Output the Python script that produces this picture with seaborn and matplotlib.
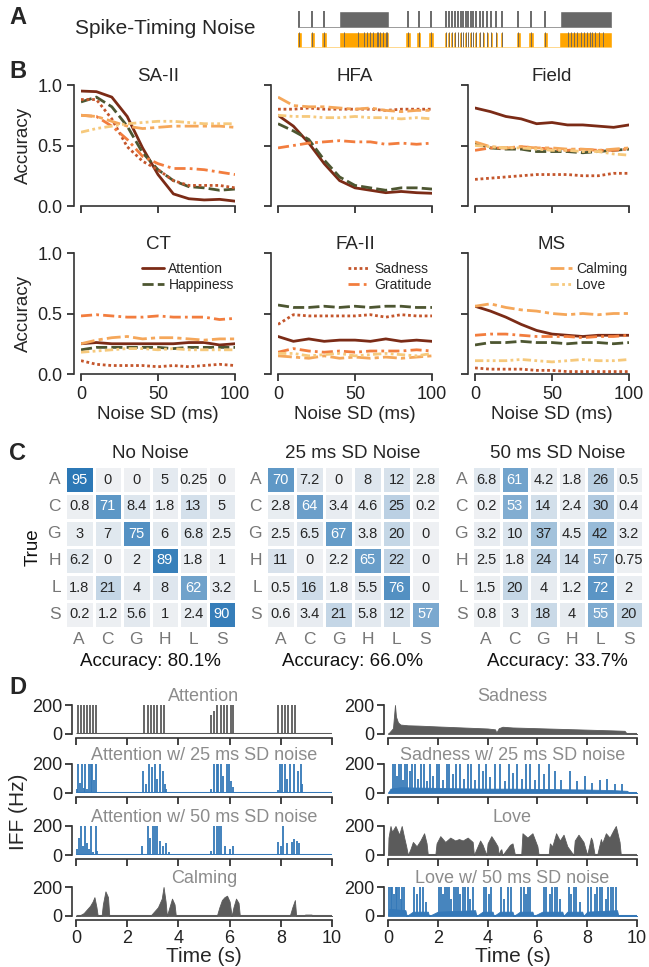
import numpy as np
import pandas as pd
import seaborn as sns
import matplotlib.pyplot as plt
from matplotlib.lines import Line2D

sns.set_theme(style="ticks")
plt.rcParams['font.family'] = ['Liberation Sans', 'DejaVu Sans']
plt.rcParams['axes.edgecolor'] = '#333333'
plt.rcParams['axes.linewidth'] = 1.2
plt.rcParams['xtick.major.width'] = 1.2
plt.rcParams['ytick.major.width'] = 1.2
plt.rcParams['xtick.major.size'] = 5
plt.rcParams['ytick.major.size'] = 5
plt.rcParams['xtick.color'] = '#222222'
plt.rcParams['ytick.color'] = '#222222'

# ---------------- data ----------------
# panel A: spike raster (normalised time 0-10)
spike_singles = [0.04, 0.46, 0.83, 3.51, 3.84, 4.24, 7.02, 7.42, 7.88]
spike_medium = [4.70, 4.81, 4.90, 5.00, 5.10, 5.18, 5.26, 5.34, 5.42, 5.50,
                5.58, 5.67, 5.79, 5.90, 6.03, 6.16, 6.32, 6.49]
spike_blocks = [(1.32, 2.91), (8.34, 10.0)]
noisy_block_lines = [1.45, 1.9, 2.1, 2.2, 2.3, 2.4, 2.5, 2.55, 2.6, 2.7, 2.8, 2.85,
                     8.6, 8.7, 8.8, 8.9, 9.0, 9.1, 9.2, 9.3, 9.35, 9.45, 9.6, 9.7]

# panel B: accuracy vs noise SD
noise_sd = [0, 10, 20, 30, 40, 50, 60, 70, 80, 90, 100]
emotions = ["Attention", "Happiness", "Sadness", "Gratitude", "Calming", "Love"]
regions = ["SA-II", "HFA", "Field", "CT", "FA-II", "MS"]
# rows follow `emotions`
sa2_acc = [[0.95, 0.945, 0.90, 0.74, 0.48, 0.26, 0.10, 0.06, 0.05, 0.055, 0.04],
           [0.86, 0.90, 0.82, 0.66, 0.44, 0.30, 0.21, 0.16, 0.15, 0.13, 0.14],
           [0.88, 0.88, 0.72, 0.49, 0.37, 0.30, 0.21, 0.17, 0.17, 0.17, 0.15],
           [0.75, 0.74, 0.66, 0.55, 0.41, 0.35, 0.31, 0.31, 0.30, 0.28, 0.26],
           [0.75, 0.74, 0.70, 0.66, 0.64, 0.65, 0.66, 0.66, 0.66, 0.66, 0.65],
           [0.61, 0.64, 0.66, 0.68, 0.69, 0.70, 0.70, 0.69, 0.68, 0.68, 0.68]]
hfa_acc = [[0.75, 0.66, 0.52, 0.35, 0.21, 0.15, 0.13, 0.11, 0.12, 0.11, 0.105],
           [0.68, 0.62, 0.55, 0.38, 0.24, 0.17, 0.15, 0.13, 0.15, 0.15, 0.14],
           [0.80, 0.80, 0.81, 0.80, 0.80, 0.80, 0.80, 0.79, 0.80, 0.80, 0.80],
           [0.48, 0.50, 0.52, 0.53, 0.54, 0.53, 0.53, 0.51, 0.52, 0.51, 0.52],
           [0.90, 0.83, 0.82, 0.82, 0.81, 0.80, 0.81, 0.79, 0.78, 0.79, 0.79],
           [0.75, 0.74, 0.74, 0.73, 0.73, 0.74, 0.73, 0.73, 0.72, 0.73, 0.72]]
field_acc = [[0.81, 0.78, 0.74, 0.72, 0.68, 0.69, 0.67, 0.67, 0.66, 0.65, 0.67],
             [0.52, 0.48, 0.47, 0.47, 0.45, 0.45, 0.45, 0.44, 0.45, 0.46, 0.47],
             [0.22, 0.23, 0.24, 0.25, 0.26, 0.26, 0.26, 0.25, 0.25, 0.27, 0.27],
             [0.46, 0.48, 0.48, 0.49, 0.48, 0.47, 0.46, 0.47, 0.46, 0.46, 0.47],
             [0.53, 0.49, 0.48, 0.49, 0.48, 0.48, 0.47, 0.47, 0.46, 0.47, 0.48],
             [0.50, 0.49, 0.48, 0.48, 0.47, 0.46, 0.46, 0.45, 0.45, 0.43, 0.42]]
ct_acc = [[0.25, 0.26, 0.25, 0.25, 0.25, 0.25, 0.25, 0.26, 0.26, 0.24, 0.25],
          [0.20, 0.22, 0.22, 0.22, 0.22, 0.22, 0.21, 0.22, 0.22, 0.22, 0.22],
          [0.11, 0.08, 0.07, 0.07, 0.07, 0.06, 0.07, 0.06, 0.07, 0.08, 0.07],
          [0.48, 0.49, 0.48, 0.47, 0.47, 0.48, 0.47, 0.47, 0.47, 0.45, 0.46],
          [0.25, 0.28, 0.30, 0.31, 0.29, 0.30, 0.30, 0.29, 0.28, 0.29, 0.29],
          [0.18, 0.19, 0.20, 0.21, 0.21, 0.20, 0.21, 0.20, 0.20, 0.20, 0.20]]
fa2_acc = [[0.31, 0.27, 0.29, 0.27, 0.28, 0.28, 0.27, 0.29, 0.27, 0.28, 0.27],
           [0.57, 0.55, 0.55, 0.56, 0.55, 0.56, 0.55, 0.56, 0.56, 0.55, 0.55],
           [0.41, 0.49, 0.48, 0.48, 0.48, 0.48, 0.49, 0.47, 0.49, 0.48, 0.48],
           [0.18, 0.21, 0.19, 0.18, 0.19, 0.18, 0.19, 0.19, 0.19, 0.20, 0.19],
           [0.15, 0.14, 0.13, 0.15, 0.13, 0.14, 0.13, 0.14, 0.13, 0.14, 0.15],
           [0.17, 0.17, 0.15, 0.16, 0.17, 0.15, 0.16, 0.17, 0.16, 0.15, 0.17]]
ms_acc = [[0.56, 0.52, 0.47, 0.41, 0.36, 0.33, 0.32, 0.31, 0.32, 0.32, 0.32],
          [0.24, 0.26, 0.26, 0.27, 0.26, 0.26, 0.25, 0.26, 0.26, 0.25, 0.26],
          [0.05, 0.04, 0.04, 0.04, 0.03, 0.03, 0.02, 0.02, 0.02, 0.02, 0.02],
          [0.32, 0.33, 0.33, 0.32, 0.31, 0.31, 0.31, 0.30, 0.31, 0.31, 0.32],
          [0.56, 0.58, 0.55, 0.53, 0.52, 0.50, 0.49, 0.50, 0.49, 0.50, 0.50],
          [0.11, 0.11, 0.11, 0.12, 0.11, 0.10, 0.11, 0.12, 0.11, 0.11, 0.12]]
region_acc = [sa2_acc, hfa_acc, field_acc, ct_acc, fa2_acc, ms_acc]

# panel C: confusion matrices (%)
codes = ["A", "C", "G", "H", "L", "S"]
cm_none = [[95, 0, 0, 5, 0.25, 0],
           [0.8, 71, 8.4, 1.8, 13, 5],
           [3, 7, 75, 6, 6.8, 2.5],
           [6.2, 0, 2, 89, 1.8, 1],
           [1.8, 21, 4, 8, 62, 3.2],
           [0.2, 1.2, 5.6, 1, 2.4, 90]]
cm_25 = [[70, 7.2, 0, 8, 12, 2.8],
         [2.8, 64, 3.4, 4.6, 25, 0.2],
         [2.5, 6.5, 67, 3.8, 20, 0],
         [11, 0, 2.2, 65, 22, 0],
         [0.5, 16, 1.8, 5.5, 76, 0],
         [0.6, 3.4, 21, 5.8, 12, 57]]
cm_50 = [[6.8, 61, 4.2, 1.8, 26, 0.5],
         [0.2, 53, 14, 2.4, 30, 0.4],
         [3.2, 10, 37, 4.5, 42, 3.2],
         [2.5, 1.8, 24, 14, 57, 0.75],
         [1.5, 20, 4, 1.2, 72, 2],
         [0.8, 3, 18, 4, 55, 20]]
cm_titles = ["No Noise", "25 ms SD Noise", "50 ms SD Noise"]
cm_acc = ["Accuracy: 80.1%", "Accuracy: 66.0%", "Accuracy: 33.7%"]

# panel D: instantaneous firing frequency traces (time s, IFF Hz)
trace_span = [0, 10]
att_t = [0.07, 0.21, 0.33, 0.44, 0.55, 0.67, 0.80,
         2.64, 2.80, 2.92, 3.05, 3.18, 3.31, 3.45,
         5.29, 5.41, 5.52, 5.65, 5.78, 5.91, 6.04, 6.14,
         7.90, 8.03, 8.16, 8.29, 8.42, 8.55]
att_h = [200, 200, 200, 200, 200, 200, 200,
         200, 200, 200, 200, 200, 200, 200,
         130, 160, 200, 200, 200, 200, 200, 200,
         200, 200, 200, 200, 200, 200]
att25_t = [0.04, 0.08, 0.15, 0.24, 0.30, 0.36, 0.44, 0.49, 0.57, 0.64, 0.70, 0.80,
           2.61, 2.72, 2.85, 2.96, 3.08, 3.18, 3.29, 3.40, 3.49, 3.53,
           5.28, 5.41, 5.49, 5.55, 5.65, 5.75, 5.90, 5.98, 6.07, 6.14,
           7.90, 7.96, 8.03, 8.16, 8.26, 8.36, 8.50, 8.67, 8.78, 8.84]
att25_h = [25, 200, 70, 200, 35, 200, 30, 200, 200, 200, 90, 200,
           150, 60, 200, 180, 200, 100, 200, 150, 60, 30,
           30, 200, 200, 200, 200, 120, 200, 200, 80, 40,
           20, 200, 200, 200, 100, 200, 200, 150, 200, 60]
att50_t = [0.03, 0.11, 0.20, 0.28, 0.36, 0.44, 0.52, 0.60, 0.68, 0.77, 0.81,
           2.59, 2.80, 2.91, 3.01, 3.08, 3.18, 3.29, 3.40, 3.50, 3.62,
           5.29, 5.41, 5.49, 5.59, 5.65, 5.81, 6.01, 6.14,
           7.90, 8.01, 8.09, 8.26, 8.42, 8.50, 8.62, 8.71]
att50_h = [40, 120, 200, 60, 200, 80, 40, 200, 20, 200, 30,
           60, 200, 120, 200, 200, 200, 100, 60, 80, 20,
           30, 200, 200, 200, 200, 60, 40, 60,
           90, 60, 200, 80, 90, 110, 100, 80]
calm_t = [0.0, 0.15, 0.3, 0.45, 0.55, 0.65, 0.72, 0.8, 0.85, 1.0, 1.05, 1.15, 1.25, 1.3,
          2.9, 3.0, 3.2, 3.35, 3.42, 3.5, 3.55, 3.65, 3.75, 3.85, 3.9,
          5.5, 5.6, 5.7, 5.8, 5.9, 6.0, 6.08, 6.15, 6.25, 6.35, 6.4,
          8.35, 8.45, 8.55, 8.6, 8.9, 8.95, 9.2, 9.25, 10.0]
calm_h = [0, 5, 20, 50, 70, 100, 130, 60, 0, 0, 80, 170, 130, 0,
          0, 20, 60, 120, 200, 100, 0, 60, 120, 80, 0,
          0, 60, 110, 130, 140, 100, 0, 60, 120, 90, 0,
          0, 60, 110, 0, 0, 10, 10, 0, 0]
sad_t = [0.0, 0.05, 0.2, 0.28, 0.32, 0.4, 0.5, 0.8, 1.2, 2.0, 3.0, 4.0, 4.3, 4.35,
         4.45, 4.6, 5.0, 6.0, 7.0, 8.0, 9.0, 9.5, 9.6, 10.0]
sad_h = [0, 10, 40, 200, 120, 80, 65, 60, 58, 52, 45, 38, 32, 10,
         40, 50, 45, 40, 35, 30, 25, 22, 0, 0]
sad25_base_t = [0.0, 0.1, 0.5, 1.0, 2.0, 3.0, 4.0, 5.0, 6.0, 7.0, 8.0, 9.0, 9.6, 9.7, 10.0]
sad25_base_h = [0, 30, 40, 38, 35, 32, 30, 30, 28, 26, 24, 20, 15, 0, 0]
sad25_t = [0.22, 0.30, 0.38, 0.45, 0.52, 0.60, 0.68, 0.78, 0.88, 0.98, 1.10, 1.20, 1.32,
           1.45, 1.55, 1.70, 1.82, 1.95, 2.05, 2.20, 2.35, 2.45, 2.60, 2.75, 2.90, 3.05,
           3.20, 3.35, 3.50, 3.65, 3.80, 3.95, 4.10, 4.30, 4.50, 4.70, 4.85, 5.00, 5.20,
           5.40, 5.55, 5.70, 5.90, 6.05, 6.25, 6.45, 6.70, 6.95, 7.30, 7.60, 7.90, 8.20,
           8.50, 8.80, 9.10, 9.40]
sad25_h = [200, 200, 120, 200, 200, 90, 200, 200, 150, 200, 200, 100, 200,
           200, 80, 200, 120, 200, 200, 90, 200, 200, 130, 200, 200, 100,
           200, 200, 90, 200, 150, 200, 110, 200, 200, 80, 200, 140, 200,
           100, 200, 200, 90, 200, 130, 200, 150, 90, 150, 80, 120, 70,
           90, 100, 60, 60]
love_t = [0.0, 0.02, 0.1, 0.16, 0.3, 0.45, 0.55, 0.65, 0.73, 0.8,
          0.9, 1.0, 1.15, 1.3, 1.45, 1.55, 1.6, 1.9,
          1.95, 2.1, 2.3, 2.5, 2.7, 2.85, 3.0, 3.2, 3.4, 3.45,
          3.6, 3.7, 3.8, 3.95, 4.0, 4.15, 4.3, 4.4, 4.45,
          4.5, 4.55, 4.6, 4.9, 5.0, 5.1, 5.35, 5.4, 5.6, 5.8, 6.0, 6.05,
          6.45, 6.5, 6.6, 6.7, 6.75, 6.9, 7.05, 7.2, 7.45,
          7.5, 7.65, 7.85, 8.0, 8.15, 8.2, 8.3, 8.4, 8.55,
          8.6, 8.75, 8.9, 9.05, 9.15, 9.3, 9.35, 10.0]
love_h = [0, 120, 200, 160, 200, 140, 200, 120, 60, 0,
          40, 90, 60, 100, 150, 80, 0, 0,
          80, 130, 90, 120, 100, 110, 100, 120, 90, 0,
          60, 100, 70, 0, 80, 130, 90, 60, 0,
          30, 40, 0, 70, 80, 0, 0, 150, 120, 150, 60, 0,
          0, 80, 60, 120, 150, 100, 140, 60, 0,
          100, 140, 90, 0, 120, 100, 0, 0, 110,
          80, 150, 120, 170, 200, 90, 0, 0]
love50_base_t = [0.0, 0.05, 0.7, 0.75, 1.0, 1.6, 1.65, 2.0, 3.5, 3.55, 3.8, 4.2, 4.25,
                 4.5, 5.0, 5.05, 5.3, 5.8, 5.85, 6.2, 7.0, 7.05, 7.2, 7.8, 7.85,
                 8.0, 9.2, 9.25, 10.0]
love50_base_h = [0, 50, 40, 0, 30, 30, 0, 30, 40, 0, 30, 30, 0,
                 30, 30, 0, 30, 30, 0, 30, 30, 0, 30, 30, 0,
                 30, 40, 0, 0]
love50_t = [0.05, 0.12, 0.18, 0.25, 0.32, 0.38, 0.45, 0.52, 0.58, 0.65,
            1.05, 1.15, 1.3, 1.42, 1.52, 2.05, 2.12, 2.2, 2.3, 2.38, 2.45, 2.55, 2.65,
            2.72, 2.8, 2.9, 3.0, 3.1, 3.2, 3.3, 3.42, 3.85, 3.95, 4.05, 4.15,
            4.55, 4.65, 4.8, 4.95, 5.35, 5.45, 5.55, 5.62, 5.72, 6.25, 6.35, 6.5,
            6.6, 6.7, 6.8, 6.92, 7.25, 7.35, 7.45, 7.55, 7.7, 8.05, 8.15, 8.3, 8.4,
            8.5, 8.6, 8.75, 8.85, 8.95, 9.05, 9.15]
love50_h = [200, 200, 200, 150, 200, 200, 200, 120, 200, 200,
            200, 150, 200, 200, 100, 200, 200, 150, 200, 200, 200, 120, 200,
            200, 200, 150, 200, 200, 200, 120, 200, 200, 200, 150, 200,
            200, 120, 200, 200, 200, 200, 150, 200, 200, 200, 200, 150,
            200, 200, 200, 120, 200, 150, 200, 200, 100, 200, 200, 150, 200,
            200, 200, 120, 200, 200, 200, 200]

# ---------------- styles ----------------
pal = {"Attention": "#7b2b16", "Happiness": "#4d5631", "Sadness": "#c4562c",
       "Gratitude": "#f27d3e", "Calming": "#f5a75a", "Love": "#f6c97c"}
dash_map = {"Attention": "", "Happiness": (4, 1.5), "Sadness": (1, 1),
            "Gratitude": (4, 1.5, 1, 1.5), "Calming": (5, 1.5, 1.5, 1.5),
            "Love": (3, 1.2, 1, 1.2, 1, 1.2)}
GRAY = "#5b5b5b"
BLUE = "#3478b8"
TITLE_GRAY = "#8c8c8c"

W, H = 649, 967
fig = plt.figure(figsize=(W / 100, H / 100), dpi=100)


def px_axes(x0, y0, x1, y1):
    return fig.add_axes([x0 / W, 1 - y1 / H, (x1 - x0) / W, (y1 - y0) / H])


# ---------------- panel A ----------------
fig.text(18 / W, 1 - 18 / H, "A", fontsize=17, fontweight="bold", va="center", ha="center")
fig.text(165 / W, 1 - 28 / H, "Spike-Timing Noise", fontsize=15, va="center", ha="center")

axa1 = px_axes(298, 11, 612, 28)
axa1.broken_barh([(a, b - a) for a, b in spike_blocks], (0, 1), facecolor="#686868")
axa1.vlines(spike_singles + spike_medium, 0, 1, color="#5f5f5f", lw=1.3)
axa1.axhline(0, color="#8a8a8a", lw=1.2)
axa1.set_xlim(0, 10)
axa1.set_ylim(0, 1)
axa1.axis("off")

axa2 = px_axes(298, 32, 612, 48)
axa2.broken_barh([(a - 0.03, b - a + 0.03) for a, b in spike_blocks], (0, 1), facecolor="#ffa500")
axa2.broken_barh([(t - 0.09, 0.18) for t in spike_singles], (0, 1), facecolor="#ffa500")
axa2.broken_barh([(t - 0.05, 0.09) for t in spike_medium], (0, 1), facecolor="#ffa500")
axa2.vlines(spike_singles + spike_medium + noisy_block_lines, 0, 1, color="#7a6a50", lw=0.7)
axa2.axhline(0, color="#ffd27a", lw=1.2)
axa2.set_xlim(0, 10)
axa2.set_ylim(0, 1)
axa2.axis("off")

# ---------------- panel B ----------------
rows = []
for reg, acc in zip(regions, region_acc):
    for emo, vals in zip(emotions, acc):
        for x, v in zip(noise_sd, vals):
            rows.append({"region": reg, "emotion": emo, "noise": x, "acc": v})
df_b = pd.DataFrame(rows)

fig.text(18 / W, 1 - 72 / H, "B", fontsize=17, fontweight="bold", va="center", ha="center")
col_x = [(81, 235), (278, 432), (475, 629)]
row_y = [(85, 206), (253, 374)]
legend_groups = [["Attention", "Happiness"], ["Sadness", "Gratitude"], ["Calming", "Love"]]
legend_x = [0.36, 0.42, 0.45]
for i, reg in enumerate(regions):
    r, c = divmod(i, 3)
    ax = px_axes(col_x[c][0], row_y[r][0], col_x[c][1], row_y[r][1])
    sns.lineplot(data=df_b[df_b.region == reg], x="noise", y="acc", hue="emotion",
                 style="emotion", palette=pal, dashes=dash_map, hue_order=emotions,
                 style_order=emotions, lw=2, legend=False, ax=ax)
    ax.set_xlim(0, 100)
    ax.set_ylim(0, 1)
    ax.set_xticks([0, 50, 100])
    ax.set_yticks([0, 0.5, 1.0])
    ax.set_title(reg, fontsize=13.5, pad=3)
    ax.tick_params(labelsize=13)
    if c == 0:
        ax.set_yticklabels(["0.0", "0.5", "1.0"])
        ax.set_ylabel("Accuracy", fontsize=13.5)
    else:
        ax.set_yticklabels([])
        ax.set_ylabel("")
    if r == 1:
        ax.set_xlabel("Noise SD (ms)", fontsize=13.5, labelpad=2)
        handles = []
        for emo in legend_groups[c]:
            if dash_map[emo] == "":
                handles.append(Line2D([], [], color=pal[emo], lw=2, label=emo))
            else:
                handles.append(Line2D([], [], color=pal[emo], lw=2, dashes=dash_map[emo], label=emo))
        ax.legend(handles=handles, loc="upper left", bbox_to_anchor=(legend_x[c], 0.97),
                  frameon=False, fontsize=10, handlelength=1.6, handletextpad=0.3,
                  labelspacing=0.15, borderaxespad=0)
    else:
        ax.set_xticklabels([])
        ax.set_xlabel("")
    sns.despine(ax=ax, offset={"left": 5}, trim=True)

# ---------------- panel C ----------------
fig.text(18 / W, 1 - 453 / H, "C", fontsize=17, fontweight="bold", va="center", ha="center")
cmap = sns.blend_palette(["#eef0f3", "#2272b3"], as_cmap=True)
hm_x = [(65, 236), (266, 440), (472, 643)]
for k, cm in enumerate([cm_none, cm_25, cm_50]):
    ax = px_axes(hm_x[k][0], 466, hm_x[k][1], 628)
    sns.heatmap(pd.DataFrame(cm, index=codes, columns=codes), ax=ax, cmap=cmap,
                vmin=0, vmax=100, annot=True, fmt="g", cbar=False,
                linewidths=2, linecolor="white", annot_kws={"size": 10.5})
    for txt in ax.texts:
        txt.set_color("white" if float(txt.get_text()) > 50 else "#262626")
    ax.set_title(cm_titles[k], fontsize=13.5, pad=6)
    ax.tick_params(length=0, labelsize=12.5, colors="#777777", pad=3)
    ax.set_yticklabels(codes, rotation=0)
    ax.set_xlabel(cm_acc[k], fontsize=13.5, labelpad=4, color="#111111")
    if k == 0:
        ax.set_ylabel("True", fontsize=13.5, color="#111111", labelpad=4)
    else:
        ax.set_ylabel("")

# ---------------- panel D ----------------
fig.text(18 / W, 1 - 688 / H, "D", fontsize=17, fontweight="bold", va="center", ha="center")
fig.text(19 / W, 1 - 812 / H, "IFF (Hz)", fontsize=15, rotation=90, va="center", ha="center")
zero_px = [734, 793, 855, 916]
d_cols = [(76, 332), (388, 637)]
panels_d = [
    [("Attention", "spikes", GRAY, att_t, att_h, None, None),
     ("Attention w/ 25 ms SD noise", "spikes", BLUE, att25_t, att25_h, None, None),
     ("Attention w/ 50 ms SD noise", "spikes", BLUE, att50_t, att50_h, None, None),
     ("Calming", "fill", GRAY, calm_t, calm_h, None, None)],
    [("Sadness", "fill", GRAY, sad_t, sad_h, None, None),
     ("Sadness w/ 25 ms SD noise", "spikes", BLUE, sad25_t, sad25_h, sad25_base_t, sad25_base_h),
     ("Love", "fill", GRAY, love_t, love_h, None, None),
     ("Love w/ 50 ms SD noise", "spikes", BLUE, love50_t, love50_h, love50_base_t, love50_base_h)],
]
for c, col in enumerate(panels_d):
    for r, (title, kind, color, t, h, bt, bh) in enumerate(col):
        ax = px_axes(d_cols[c][0], zero_px[r] - 29, d_cols[c][1], zero_px[r])
        if bt is not None:
            ax.fill_between(bt, bh, color=color, lw=0.6)
        if kind == "spikes":
            ax.vlines(t, 0, h, color=color, lw=1.3)
        else:
            ax.fill_between(t, h, color=color, lw=0.6, edgecolor=color)
        ax.plot(trace_span, [0, 0], color=color, lw=2.2, solid_capstyle="butt")
        ax.set_xlim(0, 10)
        ax.set_ylim(0, 200)
        ax.set_xticks([0, 2, 4, 6, 8, 10])
        ax.set_yticks([0, 200])
        ax.tick_params(labelsize=13, length=5, pad=2)
        ax.set_title(title, fontsize=13, color=TITLE_GRAY, pad=3)
        if r < 3:
            ax.set_xticklabels([])
        else:
            ax.set_xlabel("Time (s)", fontsize=15, labelpad=0)
        sns.despine(ax=ax, offset=3, trim=True)

fig.savefig("out.png", dpi=100)
